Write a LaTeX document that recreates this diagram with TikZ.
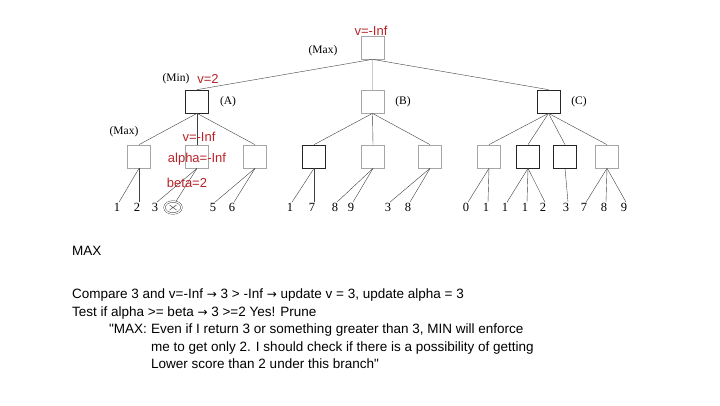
\documentclass[tikz,border=0pt]{standalone}
\usepackage{fontspec}
\setmainfont{Liberation Serif}
\newfontfamily\arial{Liberation Sans}
\newfontfamily\dvs{DejaVu Sans}
\usetikzlibrary{shapes.geometric}
\definecolor{redt}{RGB}{185,35,40}
\newcommand{\arr}{{\dvs\fontsize{12}{14}\selectfont →}}
\begin{document}
\begin{tikzpicture}[x=1pt,y=-1pt,
 box/.style={draw=gray!70, line width=0.7pt, minimum size=23pt, inner sep=0, fill=white},
 dbox/.style={box, draw=black!85},
 edge/.style={draw=black!75, line width=0.4pt},
 fedge/.style={draw=gray!40, line width=0.4pt},
 lbl/.style={font=\fontsize{11.5}{13}\selectfont, inner sep=0},
 leaf/.style={font=\fontsize{12.5}{14}\selectfont, inner sep=1pt},
 redl/.style={text=redt, font=\arial\fontsize{13}{14}\selectfont, inner sep=0},
 body/.style={font=\arial\fontsize{13.5}{17}\selectfont, inner sep=0, anchor=base west}
]
\useasboundingbox (0,0) rectangle (720,405);

% level 0-1
\node[box] (r) at (372.5,47.5) {};
\node[dbox] (A) at (197,101.5) {};
\node[box] (B) at (372.5,101.5) {};
\node[dbox] (C) at (548.5,101.5) {};
\draw[edge] (r.south) -- (A.north);
\draw[fedge] (r.south) -- (B.north);
\draw[edge] (r.south) -- (C.north);

% level 2
\node[box] (a1) at (139,156.5) {};
\node[box] (a2) at (197,156.5) {};
\node[box] (a3) at (255,156.5) {};
\node[dbox] (b1) at (314,156.5) {};
\node[box] (b2) at (373,156.5) {};
\node[box] (b3) at (430,156.5) {};
\node[box] (c1) at (489,156.5) {};
\node[dbox] (c2) at (528,156.5) {};
\node[dbox] (c3) at (565,156.5) {};
\node[box] (c4) at (607,156.5) {};
\foreach \p/\c in {A/a1,A/a2,A/a3,B/b1,B/b2,B/b3,C/c1,C/c2,C/c3,C/c4}
  \draw[edge] (\p.south) -- (\c.north);

% leaves
\node[leaf] (l1) at (117,207.5) {1};
\node[leaf] (l2) at (137,207.5) {2};
\node[leaf] (l3) at (155,207.5) {3};
\node[ellipse, draw=black!80, double, double distance=1.2pt, line width=0.4pt, minimum width=17pt, minimum height=12pt, inner sep=0] (pr) at (173,207.5) {};
\draw[black!80, line width=0.4pt] ([shift={(-3.5,-2.5)}]pr.center) -- ([shift={(3.5,2.5)}]pr.center)
  ([shift={(-3.5,2.5)}]pr.center) -- ([shift={(3.5,-2.5)}]pr.center);
\node[leaf] (l5) at (213,207.5) {5};
\node[leaf] (l6) at (232,207.5) {6};
\node[leaf] (m1) at (290,207.5) {1};
\node[leaf] (m2) at (312,207.5) {7};
\node[leaf] (m3) at (335,207.5) {8};
\node[leaf] (m4) at (351,207.5) {9};
\node[leaf] (m5) at (388,207.5) {3};
\node[leaf] (m6) at (408,207.5) {8};
\node[leaf] (n1) at (466,207.5) {0};
\node[leaf] (n2) at (486,207.5) {1};
\node[leaf] (n3) at (505,207.5) {1};
\node[leaf] (n4) at (525,207.5) {1};
\node[leaf] (n5) at (543,207.5) {2};
\node[leaf] (n6) at (566,207.5) {3};
\node[leaf] (n7) at (584,207.5) {7};
\node[leaf] (n8) at (604,207.5) {8};
\node[leaf] (n9) at (624,207.5) {9};
\foreach \p/\c in {a1/l1,a1/l2,a2/l3,a3/l5,a3/l6,b1/m1,b1/m2,b2/m3,b2/m4,b3/m5,b3/m6,
  c1/n1,c1/n2,c2/n3,c2/n4,c2/n5,c3/n6,c4/n7,c4/n8,c4/n9}
  \draw[edge] (\p.south) -- ([xshift=2pt]\c.north);
\draw[edge] (a2.south) -- ([xshift=3pt]pr.north);

% labels
\node[lbl] (lmax) at (323,51) {(Max)};
\node[lbl] (lmin) at (176,78.5) {(Min)};
\node[lbl] (la) at (228,101.5) {(A)};
\node[lbl] (lb) at (403,101.5) {(B)};
\node[lbl] (lc) at (579,101.5) {(C)};
\node[lbl] (lmax2) at (124,132) {(Max)};

% red annotations
\node[redl] (v0) at (371,31) {v=-Inf};
\node[redl] (v2) at (208,78.5) {v=2};
\node[redl] (v1) at (199,137) {v=-Inf};
\node[redl] (al) at (197,159) {alpha=-Inf};
\node[redl] (be) at (187,183) {beta=2};

% body text
\node[body] (t0) at (72,255) {MAX};
\node[body] (t1) at (72,298) {Compare 3 and v=-Inf \arr{} 3 > -Inf \arr{} update v = 3, update alpha = 3};
\node[body] (t2) at (72,316) {Test if alpha >= beta \arr{} 3 >=2 Yes! Prune};
\node[body] (t3) at (109,333) {"MAX:};
\node[body] (t4) at (151,333) {Even if I return 3 or something greater than 3, MIN will enforce};
\node[body] (t5) at (151,351) {me to get only 2. I should check if there is a possibility of getting};
\node[body] (t6) at (151,368) {Lower score than 2 under this branch"};
\end{tikzpicture}
\end{document}
